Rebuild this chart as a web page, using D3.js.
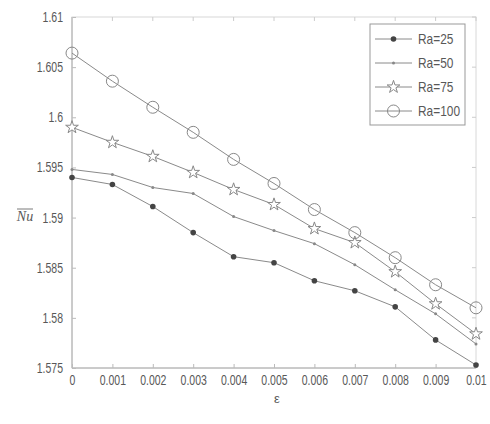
<!DOCTYPE html>
<html>
<head>
<meta charset="utf-8">
<script src="https://cdn.jsdelivr.net/npm/d3@7"></script>
<style>
  body { margin: 0; background: #fff; }
  text { font-family: "Liberation Sans", Arial, sans-serif; }
</style>
</head>
<body>
<svg id="chart" width="490" height="424"></svg>
<script>
// data
const eps = [0, 0.001, 0.002, 0.003, 0.004, 0.005, 0.006, 0.007, 0.008, 0.009, 0.01];
const ra25 = [1.5940, 1.5933, 1.5911, 1.5885, 1.5861, 1.5855, 1.5837, 1.5827, 1.5811, 1.5778, 1.5753];
const ra50 = [1.5948, 1.5943, 1.5930, 1.5924, 1.5901, 1.5887, 1.5874, 1.5853, 1.5828, 1.5804, 1.5774];
const ra75 = [1.5990, 1.5975, 1.5961, 1.5945, 1.5928, 1.5913, 1.5889, 1.5875, 1.5846, 1.5814, 1.5784];
const ra100 = [1.6064, 1.6036, 1.6010, 1.5985, 1.5958, 1.5934, 1.5908, 1.5885, 1.5860, 1.5833, 1.5810];
const yTicks = [1.575, 1.58, 1.585, 1.59, 1.595, 1.6, 1.605, 1.61];
const xTickLabels = ["0", "0.001", "0.002", "0.003", "0.004", "0.005", "0.006", "0.007", "0.008", "0.009", "0.01"];

const series = [
  { name: "Ra=25", values: ra25, marker: "dot" },
  { name: "Ra=50", values: ra50, marker: "small" },
  { name: "Ra=75", values: ra75, marker: "star" },
  { name: "Ra=100", values: ra100, marker: "circle" }
];

const svg = d3.select("#chart");
const m = { left: 72, right: 476, top: 17, bottom: 368 };

const x = d3.scaleLinear().domain([0, 0.01]).range([m.left, m.right]);
const y = d3.scaleLinear().domain([1.575, 1.61]).range([m.bottom, m.top]);

const lineCol = "#8a8a8a";
const textCol = "#585858";
const squeeze = 0.75; // the scanned labels look narrow

// frame
svg.append("rect")
  .attr("x", m.left).attr("y", m.top)
  .attr("width", m.right - m.left).attr("height", m.bottom - m.top)
  .attr("fill", "none").attr("stroke", "#d8d8d8");
svg.append("line").attr("x1", m.left).attr("x2", m.left).attr("y1", m.top).attr("y2", m.bottom)
  .attr("stroke", "#aaa");
svg.append("line").attr("x1", m.left).attr("x2", m.right).attr("y1", m.bottom).attr("y2", m.bottom)
  .attr("stroke", "#aaa");

// axes
const yAxis = d3.axisLeft(y).tickValues(yTicks).tickSize(-4).tickPadding(9)
  .tickFormat(d => String(+d.toFixed(3)));
const gy = svg.append("g").attr("transform", `translate(${m.left},0)`).call(yAxis);
const xAxis = d3.axisBottom(x).tickValues(eps).tickSize(-4).tickPadding(7)
  .tickFormat((d, i) => xTickLabels[i]);
const gx = svg.append("g").attr("transform", `translate(0,${m.bottom})`).call(xAxis);

[gy, gx].forEach(g => {
  g.select(".domain").remove();
  g.selectAll(".tick line").attr("stroke", "#bbb");
  g.selectAll(".tick text").attr("fill", textCol).style("font-size", "14px")
    .style("font-family", "'Liberation Sans', Arial, sans-serif");
});
gy.selectAll(".tick text")
  .attr("x", -9 / squeeze)
  .attr("transform", `scale(${squeeze},1)`);
gx.selectAll(".tick text")
  .attr("transform", `scale(${squeeze},1)`);

// mirrored ticks on top and right
svg.append("g").selectAll("line").data(eps).join("line")
  .attr("x1", d => x(d)).attr("x2", d => x(d))
  .attr("y1", m.top).attr("y2", m.top + 4).attr("stroke", "#ccc");
svg.append("g").selectAll("line").data(yTicks).join("line")
  .attr("x1", m.right).attr("x2", m.right - 4)
  .attr("y1", d => y(d)).attr("y2", d => y(d)).attr("stroke", "#ccc");

// axis labels
svg.append("text")
  .attr("x", 25).attr("y", 221)
  .attr("text-anchor", "middle")
  .attr("fill", textCol)
  .style("font-family", "'Liberation Serif', 'Times New Roman', serif")
  .style("font-style", "italic")
  .style("font-size", "14px")
  .text("Nu");
svg.append("line").attr("x1", 17).attr("x2", 33).attr("y1", 209).attr("y2", 209)
  .attr("stroke", textCol).attr("stroke-width", 0.8);

svg.append("text")
  .attr("x", 277).attr("y", 403)
  .attr("text-anchor", "middle")
  .attr("fill", textCol)
  .style("font-size", "13px")
  .text("ε");

const star = d3.symbol().type(d3.symbolStar).size(50);

function drawMarker(g, kind, cx, cy) {
  if (kind === "dot") {
    g.append("circle").attr("cx", cx).attr("cy", cy).attr("r", 2.8).attr("fill", "#444");
  } else if (kind === "small") {
    g.append("circle").attr("cx", cx).attr("cy", cy).attr("r", 1.5).attr("fill", "#888");
  } else if (kind === "star") {
    g.append("path").attr("d", star()).attr("transform", `translate(${cx},${cy})`)
      .attr("fill", "#fff").attr("stroke", "#888").attr("stroke-width", 1);
  } else {
    g.append("circle").attr("cx", cx).attr("cy", cy).attr("r", 6)
      .attr("fill", "none").attr("stroke", "#888").attr("stroke-width", 1);
  }
}

const line = d3.line().x((d, i) => x(eps[i])).y(d => y(d));

series.forEach(s => {
  const g = svg.append("g");
  g.append("path").datum(s.values).attr("d", line)
    .attr("fill", "none").attr("stroke", lineCol).attr("stroke-width", 1);
  s.values.forEach((v, i) => drawMarker(g, s.marker, x(eps[i]), y(v)));
});

// legend
const lg = svg.append("g").attr("transform", "translate(370,24)");
lg.append("rect").attr("width", 95).attr("height", 101)
  .attr("fill", "#fff").attr("stroke", "#999");
series.forEach((s, i) => {
  const yy = 15 + i * 24;
  lg.append("line").attr("x1", 5).attr("x2", 42).attr("y1", yy).attr("y2", yy)
    .attr("stroke", lineCol);
  drawMarker(lg, s.marker, 23.5, yy);
  lg.append("text").attr("x", 48 / 0.85).attr("y", yy + 5)
    .attr("transform", "scale(0.85,1)")
    .attr("fill", textCol).style("font-size", "14px").text(s.name);
});
</script>
</body>
</html>
